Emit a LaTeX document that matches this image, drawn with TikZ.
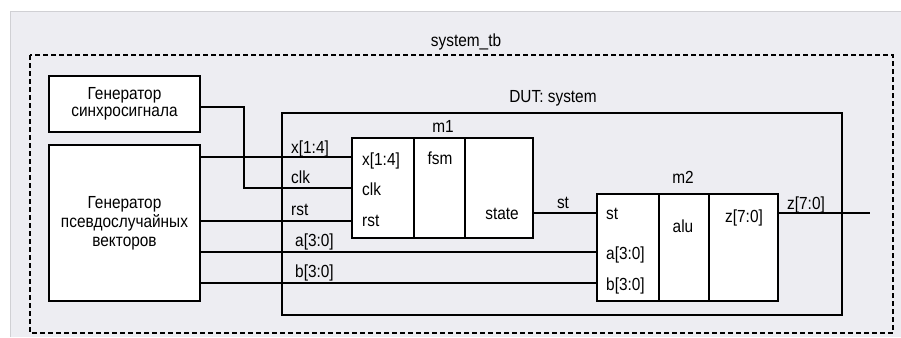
\documentclass[tikz,border=0pt]{standalone}
\usepackage{fontspec}
\setmainfont[FakeStretch=0.88]{Liberation Sans}
\definecolor{panelgray}{RGB}{237,237,242}
\definecolor{edgegray}{RGB}{208,208,212}
\tikzset{
  wire/.style={line width=1.7pt},
  blk/.style={draw, line width=1.7pt, fill=white, inner sep=0pt},
  lbl/.style={font=\fontsize{17.5}{18}\selectfont, inner sep=0pt},
}
\begin{document}
\begin{tikzpicture}[x=1pt, y=-1pt]
    \useasboundingbox (0,0) rectangle (901,337);
    % Hintergrund
    \fill[panelgray] (10,12) rectangle (901,337);
    \draw[edgegray, line width=1pt] (10,337) -- (10,12) -- (901,12);

    % Testbench
    \draw[line width=1.7pt, dash pattern=on 5pt off 3pt] (30,55) rectangle (893,333);
    \node[lbl, anchor=base] (tb) at (466,46) {system\_tb};

    % Generatoren
    \node[blk, lbl, minimum width=151pt, minimum height=56pt, align=center] (gen1) at (124.5,104) {Генератор\\[-1pt]синхросигнала};
    \node[blk, lbl, minimum width=151pt, minimum height=156pt, align=center] (gen2) at (124.5,223) {Генератор\\[1pt]псевдослучайных\\[1pt]векторов};

    % DUT
    \node[draw, line width=1.7pt, inner sep=0pt, minimum width=560pt, minimum height=202pt] (dut) at (562,214) {};
    \node[lbl, anchor=base] (dutname) at (553,102) {DUT: system};

    % Modul m1
    \node[blk, minimum width=181pt, minimum height=100pt] (m1) at (442.5,188) {};
    \draw[wire] (414,138) -- (414,238);
    \draw[wire] (465,138) -- (465,238);
    \node[lbl, anchor=base] (m1name) at (443,132) {m1};
    \node[lbl, anchor=base west] at (362,165) {x[1:4]};
    \node[lbl, anchor=base west] at (362,195) {clk};
    \node[lbl, anchor=base west] at (362,226) {rst};
    \node[lbl, anchor=base] at (440,164) {fsm};
    \node[lbl, anchor=base] at (502,219) {state};
    \coordinate (m1x) at (352,157);
    \coordinate (m1clk) at (352,188);
    \coordinate (m1rst) at (352,221);
    \coordinate (m1st) at (533,213);

    % Modul m2
    \node[blk, minimum width=181pt, minimum height=107pt] (m2) at (687.5,247.5) {};
    \draw[wire] (659,194) -- (659,301);
    \draw[wire] (709,194) -- (709,301);
    \node[lbl, anchor=base] (m2name) at (683,183) {m2};
    \node[lbl, anchor=base west] at (606,219) {st};
    \node[lbl, anchor=base west] at (606,259) {a[3:0]};
    \node[lbl, anchor=base west] at (606,290) {b[3:0]};
    \node[lbl, anchor=base] at (683,232) {alu};
    \node[lbl, anchor=base] at (744,222) {z[7:0]};
    \coordinate (m2st) at (597,213);
    \coordinate (m2a) at (597,252);
    \coordinate (m2b) at (597,283);
    \coordinate (m2z) at (778,213);
    \coordinate (zout) at (870,213);

    % Leitungen
    \draw[wire] ([yshift=-3pt]gen1.east) -- ++(43,0) |- (m1clk);
    \draw[wire] (gen2.east |- m1x) -- (m1x);
    \draw[wire] (gen2.east |- m1rst) -- (m1rst);
    \draw[wire] (gen2.east |- m2a) -- (m2a);
    \draw[wire] (gen2.east |- m2b) -- (m2b);
    \draw[wire] (m1st) -- (m2st);
    \draw[wire] (m2z) -- (zout);

    % Signalnamen
    \node[lbl, anchor=base west] at (291,153) {x[1:4]};
    \node[lbl, anchor=base west] at (291,183) {clk};
    \node[lbl, anchor=base west] at (291,215) {rst};
    \node[lbl, anchor=base west] at (295,246) {a[3:0]};
    \node[lbl, anchor=base west] at (295,277) {b[3:0]};
    \node[lbl, anchor=base] at (563,208) {st};
    \node[lbl, anchor=base] at (806,209) {z[7:0]};
\end{tikzpicture}
\end{document}
